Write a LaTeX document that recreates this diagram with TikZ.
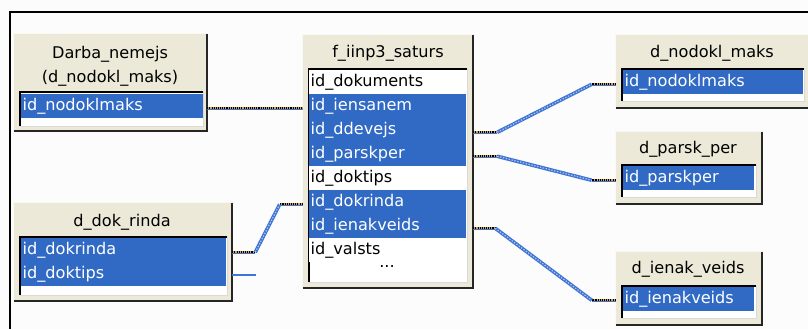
\documentclass[tikz,border=0pt]{standalone}
\usepackage{fontspec}
\setmainfont{DejaVu Sans}
\usetikzlibrary{calc,fit}
\definecolor{bg}{HTML}{FCFCFC}
\definecolor{hdr}{HTML}{ECE9D8}
\definecolor{sel}{HTML}{316AC5}
\definecolor{lnk}{HTML}{3F74D4}
\definecolor{orng}{HTML}{D8A040}
\newcommand{\dbbox}[8]{%
  \node[fit={(#2,#3) (#4,#5)}, inner sep=0pt, fill=hdr] (#1) {};
  \draw[line width=0.75pt, white!70!hdr] (#1.south west) -- (#1.north west) -- (#1.north east);
  \draw[line width=1.5pt, black!85] (#1.north east) -- (#1.south east) -- (#1.south west);
  \fill[white] (#2+6,#6) rectangle (#8,#7);
  \draw[line width=0.75pt, black!15] (#8,#6) -- (#8,#7) -- (#2+6,#7);
  \draw[line width=1.5pt, black] (#8,#6) -- (#2+6,#6) -- (#2+6,#7);
}
\begin{document}
\begin{tikzpicture}[x=0.75pt,y=-0.75pt,
  every node/.style={font=\fontsize{12.1}{18.2}\selectfont},
  hdrtext/.style={align=center, inner sep=0pt},
  row/.style={anchor=north west, inner xsep=1pt, inner ysep=0pt, minimum height=18pt,
    text height=8.9pt, text depth=2.7pt, align=left},
  selrow/.style={row, fill=sel, text=white},
  plainrow/.style={row, fill=white, text=black},
  stub/.style={line width=2.4pt, draw=lnk, postaction={draw=orng, line width=1.5pt},
    postaction={draw=black, line width=1.5pt, dash pattern=on 0.8pt off 0.8pt}},
  diag/.style={line width=2.7pt, draw=lnk, postaction={draw=white!60!lnk, line width=0.9pt, dash pattern=on 1pt off 1.2pt}},
  thinlink/.style={line width=1.3pt, draw=lnk}]
\useasboundingbox (0,0) rectangle (808,329);
\fill[bg] (0,0) rectangle (808,329);
\draw[black, line width=1.6pt] (808,12) -- (10,12) -- (10,329);

% Darba_nemejs
\dbbox{A}{14}{34}{207}{131}{92}{126}{203}
\node[hdrtext] (A-t) at (110,66) {Darba\_nemejs\\(d\_nodokl\_maks)};
\node[selrow, text width=134.5pt] (A-nod) at (21,94) {id\_nodoklmaks};

% f_iinp3_saturs
\dbbox{F}{303}{35}{473}{288}{69}{282}{467}
\node[hdrtext] (F-t) at (388,53) {f\_iinp3\_saturs};
\node[plainrow, text width=115.75pt] (F-dok) at (309,70) {id\_dokuments};
\node[selrow, text width=115.75pt] (F-iens) at (309,94) {id\_iensanem};
\node[selrow, text width=115.75pt] (F-ddev) at (309,118) {id\_ddevejs};
\node[selrow, text width=115.75pt] (F-pars) at (309,142) {id\_parskper};
\node[plainrow, text width=115.75pt] (F-dtip) at (309,166) {id\_doktips};
\node[selrow, text width=115.75pt] (F-drin) at (309,190) {id\_dokrinda};
\node[selrow, text width=115.75pt] (F-ienv) at (309,214) {id\_ienakveids};
\node[plainrow, text width=115.75pt] (F-vals) at (309,238) {id\_valsts};
\node[inner sep=0pt] (F-more) at (387,266) {...};

% d_nodokl_maks
\dbbox{N}{616}{35}{812}{108}{69}{101}{804}
\node[hdrtext] (N-t) at (712,53) {d\_nodokl\_maks};
\node[selrow, text width=133pt] (N-nod) at (623,70) {id\_nodoklmaks};

% d_parsk_per
\dbbox{P}{616}{132}{762}{204}{165}{197}{756}
\node[hdrtext] (P-t) at (688,149) {d\_parsk\_per};
\node[selrow, text width=96.25pt] (P-pars) at (623,166) {id\_parskper};

% d_ienak_veids
\dbbox{I}{616}{252}{762}{325}{286}{318}{756}
\node[hdrtext] (I-t) at (688,269) {d\_ienak\_veids};
\node[selrow, text width=96.25pt] (I-ienv) at (623,287) {id\_ienakveids};

% d_dok_rinda
\dbbox{D}{14}{203}{232}{301}{237}{295}{227}
\node[hdrtext] (D-t) at (122,222) {d\_dok\_rinda};
\node[selrow, text width=151.75pt] (D-drin) at (21,238) {id\_dokrinda};
\node[selrow, text width=151.75pt] (D-dtip) at (21,262) {id\_doktips};

% connectors
\draw[stub] ($(A.east |- A-nod)+(0,2)$) -- ($(F.west |- F-iens)+(0,2)$);

\draw[stub] ($(F.east |- F-ddev)+(0,2)$) -- ++(24,0) coordinate (c2a);
\draw[stub] ($(N.west |- N-nod)+(0,2)$) -- ++(-24,0) coordinate (c2b);
\draw[diag] (c2a) -- (c2b);

\draw[stub] ($(F.east |- F-pars)+(0,2)$) -- ++(24,0) coordinate (c3a);
\draw[stub] ($(P.west |- P-pars)+(0,2)$) -- ++(-24,0) coordinate (c3b);
\draw[diag] (c3a) -- (c3b);

\draw[stub] ($(F.east |- F-ienv)+(0,2)$) -- ++(22,0) coordinate (c4a);
\draw[stub] ($(I.west |- I-ienv)+(0,1)$) -- ++(-24,0) coordinate (c4b);
\draw[diag] (c4a) -- (c4b);

\draw[stub] ($(D.east |- D-drin)+(0,2)$) -- ++(23,0) coordinate (c5a);
\draw[stub] ($(F.west |- F-drin)+(0,2)$) -- ++(-23,0) coordinate (c5b);
\draw[diag] (c5a) -- (c5b);

\coordinate (c6) at ($(D.east |- D-dtip)+(24,1)$);
\draw[thinlink] ($(D.east |- D-dtip)+(0,1)$) -- (c6);
\end{tikzpicture}
\end{document}
